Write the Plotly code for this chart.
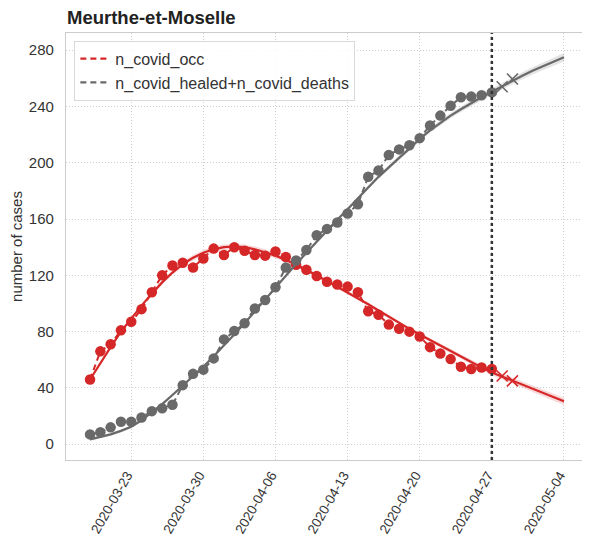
import pandas as pd
import plotly.graph_objects as go

# observed values (daily, 2020-03-19 .. 2020-04-27)
obs_dates = pd.date_range("2020-03-19", "2020-04-27", freq="D")
n_covid_occ = [46, 66, 71, 81, 87, 96, 108, 120, 127, 129, 125.5, 132, 139, 134.5,
               140, 137.5, 134.5, 134, 137, 133, 127.5, 124, 119.5, 115.5, 113.5, 112,
               108, 94.5, 92, 85, 82, 80, 76.5, 69, 64.5, 60.5, 55, 53.5, 54.5, 53.5]
n_healed_deaths = [7, 8.5, 12, 16, 16, 19, 23.5, 25.5, 28, 42, 50, 53, 61, 74.5, 80.5,
                   86, 96.5, 102.5, 111.5, 125.5, 130.5, 138, 148.5, 153, 157.5, 164,
                   170.5, 190, 194.5, 205.5, 209.5, 212.5, 217.5, 226.5, 233.5, 240.5,
                   246.5, 247, 248, 250]

# next observed days (crosses)
next_dates = ["2020-04-28", "2020-04-29"]
next_occ = [48.5, 45]
next_healed_deaths = [254, 259.5]

# model fit (daily, 2020-03-19 .. 2020-05-04)
fit_dates = pd.date_range("2020-03-19", "2020-05-04", freq="D")
fit_occ = [46, 58, 69, 80, 89.5, 98.5, 107, 115, 122, 128, 132.5, 136, 138.5, 140,
           140.5, 140, 138.5, 136.5, 134, 131, 127.5, 124, 120, 116, 112, 108, 104,
           99.5, 95, 90.5, 86.5, 82, 78, 74, 70, 66, 62, 58, 54.5, 51, 48, 45, 42,
           39, 36, 33, 30.5]
fit_healed_deaths = [3.5, 5, 7, 9.5, 12.5, 17, 22.5, 28.5, 35, 41.5, 48, 55, 62.5, 70,
                     78, 86, 94.5, 103, 111.5, 120, 128, 136, 144, 152, 159.5, 167,
                     175, 182.5, 190, 197, 203.5, 210, 217, 223, 228.5, 233.5, 238,
                     242.5, 246.5, 250.5, 254.5, 258.5, 262, 265.5, 268.8, 272, 275]
# half width of the shaded band around each fit
band_occ = [1, 1, 1, 1, 1, 1.2, 1.4, 1.5, 1.6, 1.8, 2, 2, 2, 2, 2, 2, 2, 2, 1.8, 1.6,
            1.5, 1.4, 1.3, 1.2, 1.2, 1.2, 1.2, 1.2, 1.2, 1.2, 1.2, 1.3, 1.3, 1.4, 1.5,
            1.5, 1.6, 1.7, 1.8, 1.9, 2, 2.1, 2.2, 2.3, 2.4, 2.5, 2.6]
band_healed_deaths = [1, 1, 1, 1, 1, 1, 1, 1, 1, 1, 1, 1, 1, 1, 1, 1, 1, 1, 1, 1, 1,
                      1.1, 1.2, 1.2, 1.3, 1.3, 1.4, 1.4, 1.5, 1.5, 1.6, 1.6, 1.7, 1.7,
                      1.8, 1.8, 1.9, 2, 2.1, 2.2, 2.3, 2.4, 2.5, 2.6, 2.7, 2.8, 3]

cutoff_date = "2020-04-27"
x_ticks = ["2020-03-23", "2020-03-30", "2020-04-06", "2020-04-13",
           "2020-04-20", "2020-04-27", "2020-05-04"]
y_ticks = [0, 40, 80, 120, 160, 200, 240, 280]

RED = "#d62728"
GREY = "#696969"

series = [
    ("n_covid_occ", n_covid_occ, next_occ, fit_occ, band_occ, RED, "rgba(214,39,40,0.18)"),
    ("n_covid_healed+n_covid_deaths", n_healed_deaths, next_healed_deaths,
     fit_healed_deaths, band_healed_deaths, GREY, "rgba(105,105,105,0.18)"),
]

fig = go.Figure()
for name, obs, nxt, fit, band, col, fill in series:
    upper = [f + b for f, b in zip(fit, band)]
    lower = [f - b for f, b in zip(fit, band)]
    fig.add_trace(go.Scatter(x=list(fit_dates), y=upper, mode="lines",
                             line=dict(width=0), showlegend=False, hoverinfo="skip"))
    fig.add_trace(go.Scatter(x=list(fit_dates), y=lower, mode="lines", fill="tonexty",
                             fillcolor=fill, line=dict(width=0), showlegend=False,
                             hoverinfo="skip"))
    fig.add_trace(go.Scatter(x=list(obs_dates), y=obs, mode="lines+markers",
                             line=dict(color=col, width=2, dash="6px,4px"),
                             marker=dict(color=col, size=10.5), showlegend=False))
    fig.add_trace(go.Scatter(x=next_dates, y=nxt, mode="markers",
                             marker=dict(symbol="x-thin", size=11, color=col,
                                         line=dict(color=col, width=1.6)),
                             showlegend=False))
    fig.add_trace(go.Scatter(x=list(fit_dates), y=fit, mode="lines",
                             line=dict(color=col, width=2.2), showlegend=False))
    # legend entry: dashed line only
    fig.add_trace(go.Scatter(x=[None], y=[None], mode="lines", name=name,
                             line=dict(color=col, width=2.2, dash="6px,4px")))

fig.add_shape(type="line", x0=cutoff_date, x1=cutoff_date, y0=0, y1=1,
              xref="x", yref="paper", line=dict(color="#333333", width=2.5, dash="dot"))

fig.add_annotation(text="<b>Meurthe-et-Moselle</b>", x=0, y=1, xref="paper", yref="paper",
                   xanchor="left", yanchor="bottom", xshift=-1, yshift=3, showarrow=False,
                   font=dict(size=18.5, color="#222222"))

# page body has an 8px margin, so the figure is 8px smaller than the window
fig.update_layout(
    width=582, height=531,
    margin=dict(l=58, r=2, t=25, b=79, autoexpand=False),
    paper_bgcolor="white", plot_bgcolor="white",
    font=dict(family="Liberation Sans, Arial, sans-serif", size=15, color="#333333"),
    legend=dict(x=0.016, y=0.982, xanchor="left", yanchor="top", traceorder="normal",
                bgcolor="rgba(255,255,255,0.85)", bordercolor="#d9d9d9", borderwidth=1,
                font=dict(size=16, color="#333333"), tracegroupgap=0),
    showlegend=True,
)
fig.update_xaxes(
    type="date", range=["2020-03-16 16:00", "2020-05-06 08:00"], automargin=False,
    tickvals=x_ticks, ticktext=x_ticks, tickangle=-60,
    showgrid=True, gridcolor="#cfcfcf", griddash="1px,2px", gridwidth=1,
    showline=True, linecolor="#cccccc", linewidth=1.2, mirror=True,
    ticks="", zeroline=False, tickfont=dict(size=13.5), ticklabelshift=-4,
    ticklabelstandoff=1,
)
fig.update_yaxes(
    range=[-11.2, 292.2], tickvals=y_ticks, automargin=False,
    showgrid=True, gridcolor="#cfcfcf", griddash="1px,2px", gridwidth=1,
    showline=True, linecolor="#cccccc", linewidth=1.2, mirror=True,
    ticks="", zeroline=False, ticklabelstandoff=8, tickfont=dict(size=15),
    title=dict(text="number of cases", font=dict(size=15), standoff=10),
)

fig.write_html("out.html")
